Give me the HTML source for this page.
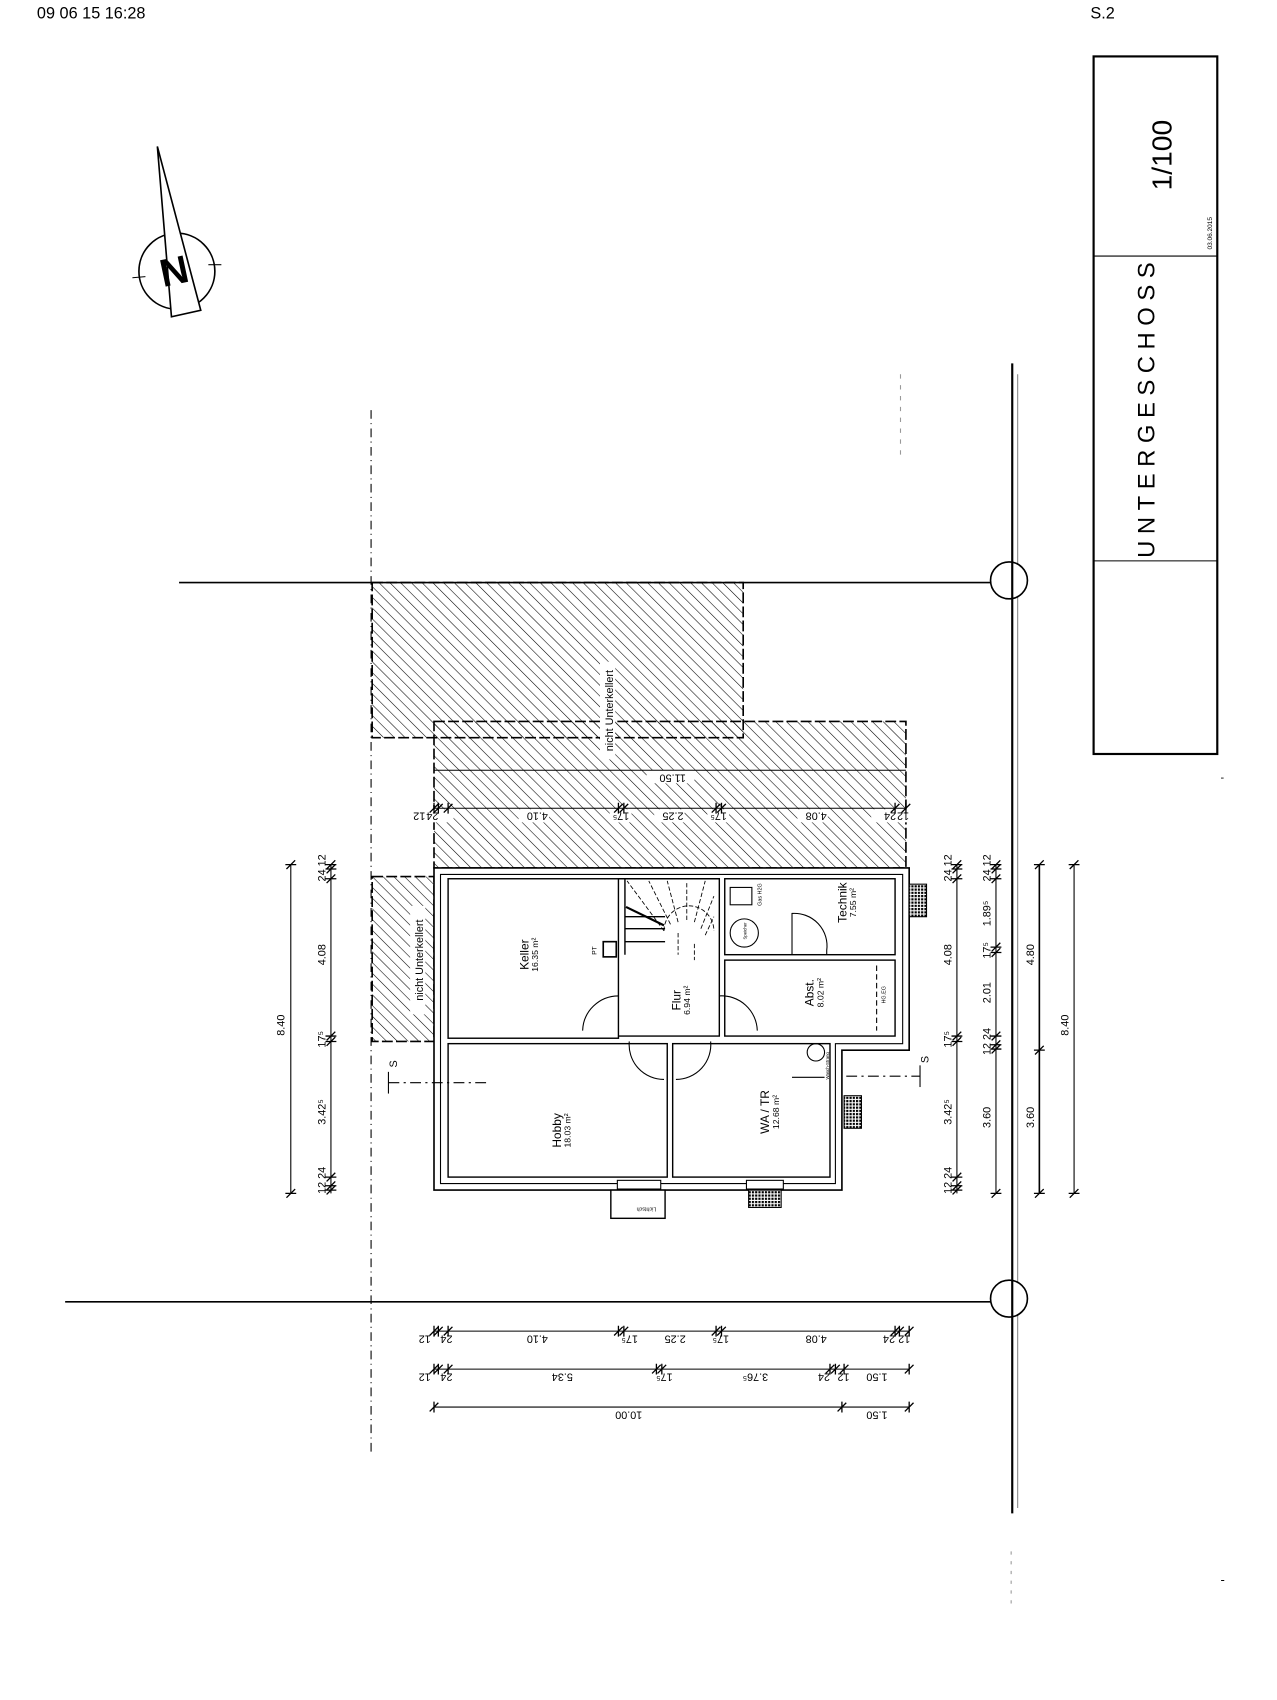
<!DOCTYPE html>
<html><head><meta charset="utf-8">
<style>
html,body{margin:0;padding:0;background:#fff;}
svg{display:block;}
text{font-family:"Liberation Sans",sans-serif;fill:#000;}
.n{font-family:"Liberation Sans",sans-serif;font-size:10px;}
</style></head>
<body>
<svg width="1277" height="1700" viewBox="0 0 1177 1567" xmlns="http://www.w3.org/2000/svg">
<defs>
<pattern id="h" width="7" height="7" patternUnits="userSpaceOnUse" patternTransform="rotate(-45)">
<line x1="0" y1="0" x2="0" y2="7" stroke="#000" stroke-width="1"/>
</pattern>
<pattern id="dot" width="3" height="3" patternUnits="userSpaceOnUse">
<rect width="3" height="3" fill="#fff"/><rect width="2" height="2" fill="#000"/>
</pattern>
<path id="tv" d="M-4 4L4 -4M-5 0H5" stroke="#000" stroke-width="1.2" fill="none"/>
<path id="th" d="M-4 4L4 -4M0 -5V5" stroke="#000" stroke-width="1.2" fill="none"/>
</defs>

<text x="34" y="17" font-size="15">09 06 15 16:28</text>
<text x="1005" y="17" font-size="15">S.2</text>

<!-- title block -->
<rect x="1008" y="52" width="114" height="643" fill="none" stroke="#000" stroke-width="2"/>
<line x1="1008" y1="236" x2="1122" y2="236" stroke="#000"/>
<line x1="1008" y1="517" x2="1122" y2="517" stroke="#000"/>
<text transform="translate(1080,143) rotate(-90)" font-size="26" text-anchor="middle">1/100</text>
<text transform="translate(1117,215) rotate(-90)" font-size="6" text-anchor="middle">03.06.2015</text>
<text transform="translate(1064,375) rotate(-90)" font-size="22" letter-spacing="6" text-anchor="middle">UNTERGESCHOSS</text>
<text x="1125" y="720" font-size="10">-</text>
<text x="1125" y="1460" font-size="12">-</text>

<!-- compass -->
<circle cx="163" cy="250" r="35" fill="none" stroke="#000" stroke-width="1.5"/>
<line x1="122" y1="256" x2="134" y2="255" stroke="#000"/>
<line x1="192" y1="244" x2="204" y2="244" stroke="#000"/>
<polygon points="145,135 185,286 158,292" fill="#fff" stroke="#000" stroke-width="1.5"/>
<text transform="translate(163,262) rotate(-12)" font-size="36" font-weight="bold" text-anchor="middle">N</text>

<!-- axis lines -->
<line x1="933" y1="335" x2="933" y2="1395" stroke="#000" stroke-width="2"/>
<line x1="938" y1="345" x2="938" y2="1390" stroke="#888" stroke-width="1"/>
<line x1="165" y1="537" x2="913" y2="537" stroke="#000" stroke-width="1.5"/>
<line x1="60" y1="1200" x2="913" y2="1200" stroke="#000" stroke-width="1.5"/>
<circle cx="930" cy="535" r="17" fill="#fff" stroke="#000" stroke-width="1.5"/>
<circle cx="930" cy="1197" r="17" fill="#fff" stroke="#000" stroke-width="1.5"/>
<line x1="933" y1="518" x2="933" y2="552" stroke="#000" stroke-width="2"/>
<line x1="933" y1="1180" x2="933" y2="1214" stroke="#000" stroke-width="2"/>
<line x1="342" y1="378" x2="342" y2="1340" stroke="#000" stroke-width="1" stroke-dasharray="8 4 1 4"/>
<line x1="830" y1="345" x2="830" y2="420" stroke="#999" stroke-width="1" stroke-dasharray="4 6"/>
<line x1="932" y1="1430" x2="932" y2="1480" stroke="#999" stroke-width="1" stroke-dasharray="3 6"/>

<!-- hatched areas -->
<rect x="343" y="537" width="342" height="143" fill="url(#h)" stroke="#000" stroke-width="1.5" stroke-dasharray="10 3"/>
<rect x="400" y="665" width="435" height="135" fill="url(#h)" stroke="#000" stroke-width="1.5" stroke-dasharray="10 3"/>
<rect x="343" y="808" width="57" height="152" fill="url(#h)" stroke="#000" stroke-width="1.5" stroke-dasharray="10 3"/>
<rect x="553" y="610" width="14" height="90" fill="#fff"/>
<text transform="translate(565,655) rotate(-90)" font-size="10" text-anchor="middle">nicht Unterkellert</text>
<rect x="378" y="835" width="14" height="100" fill="#fff"/>
<text transform="translate(390,885) rotate(-90)" font-size="10" text-anchor="middle">nicht Unterkellert</text>

<!-- top dims in hatch -->
<rect x="596" y="710" width="44" height="12" fill="#fff"/>
<line x1="400" y1="710" x2="835" y2="710" stroke="#000"/>
<text transform="translate(620,714) rotate(180)" class="n" text-anchor="middle">11.50</text>
<line x1="400" y1="745" x2="835" y2="745" stroke="#000"/>
<g fill="#fff"><rect x="378" y="746" width="40" height="12"/><rect x="478" y="746" width="28" height="12"/><rect x="562" y="746" width="20" height="12"/><rect x="603" y="746" width="28" height="12"/><rect x="652" y="746" width="20" height="12"/><rect x="735" y="746" width="28" height="12"/><rect x="803" y="746" width="40" height="12"/></g>
<g class="n"><text transform="translate(392,749) rotate(180)">12</text><text transform="translate(404,749) rotate(180)">24</text><text transform="translate(505,749) rotate(180)">4.10</text><text transform="translate(580,749) rotate(180)">17⁵</text><text transform="translate(630,749) rotate(180)">2.25</text><text transform="translate(670,749) rotate(180)">17⁵</text><text transform="translate(762,749) rotate(180)">4.08</text><text transform="translate(826,749) rotate(180)">24</text><text transform="translate(838,749) rotate(180)">12</text></g>
<g><use href="#th" x="400" y="745"/><use href="#th" x="404" y="745"/><use href="#th" x="413" y="745"/><use href="#th" x="570" y="745"/><use href="#th" x="575" y="745"/><use href="#th" x="660" y="745"/><use href="#th" x="665" y="745"/><use href="#th" x="825" y="745"/><use href="#th" x="835" y="745"/></g>

<!-- house walls -->
<path d="M400 800 H838 V968 H776 V1097 H400 Z" fill="#fff" stroke="#000" stroke-width="1.5"/>
<path d="M406 806 H832 V962 H770 V1091 H406 Z" fill="none" stroke="#000" stroke-width="1"/>
<!-- rooms -->
<g fill="none" stroke="#000" stroke-width="1.3">
<rect x="413" y="810" width="157" height="147"/>
<rect x="413" y="962" width="202" height="123"/>
<rect x="620" y="962" width="145" height="123"/>
<rect x="668" y="810" width="157" height="70"/>
<rect x="668" y="885" width="157" height="70"/>
<path d="M570 810 H663 V955 H570"/>
<path d="M576 810 V880 M576 868 H613 M576 856 H613 M576 845 H613"/>
</g>
<!-- stair detail -->
<g stroke="#000" stroke-width="0.8" fill="none" stroke-dasharray="4 2">
<path d="M612 858 A22 22 0 0 1 658 858"/>
<path d="M612 858 L578 812 M618 852 L598 812 M625 850 L615 812 M633 848 L633 812 M640 850 L650 812 M646 856 L658 826 M650 862 L658 845"/>
<path d="M625 860 V880 M640 870 V885"/>
</g>
<line x1="577" y1="836" x2="612" y2="853" stroke="#000" stroke-width="2"/>
<rect x="556" y="868" width="12" height="14" fill="none" stroke="#000" stroke-width="1.5"/>
<text transform="translate(550,880) rotate(-90)" font-size="6">PT</text>
<!-- technik items -->
<rect x="673" y="818" width="20" height="16" fill="none" stroke="#000"/>
<text transform="translate(702,835) rotate(-90)" font-size="5">Gas H2G</text>
<circle cx="686" cy="860" r="13" fill="none" stroke="#000"/>
<text transform="translate(688,866) rotate(-90)" font-size="4">Speicher</text>
<path d="M730 880 V842 A30 30 0 0 1 762 876 V880" fill="none" stroke="#000"/>
<circle cx="752" cy="970" r="8" fill="none" stroke="#000"/>
<text transform="translate(764,995) rotate(-90)" font-size="4">Wasch-Strang</text>
<line x1="730" y1="993" x2="760" y2="993" stroke="#000"/>
<path d="M808 890 V950" stroke="#000" stroke-dasharray="5 3"/>
<text transform="translate(816,925) rotate(-90)" font-size="5">HG.EG</text>
<!-- doors -->
<g fill="none" stroke="#000" stroke-width="1">
<path d="M570 918 A33 33 0 0 0 537 950"/>
<path d="M663 918 A33 33 0 0 1 698 950"/>
<path d="M580 960 A32 32 0 0 0 612 995"/>
<path d="M655 960 A32 32 0 0 1 623 995"/>
</g>
<!-- windows/lichtschacht -->
<rect x="569" y="1088" width="40" height="8" fill="#fff" stroke="#000"/>
<rect x="563" y="1097" width="50" height="26" fill="#fff" stroke="#000" stroke-width="1.3"/>
<text transform="translate(605,1113) rotate(180)" font-size="5">Lichtsch</text>
<rect x="690" y="1097" width="30" height="16" fill="url(#dot)" stroke="#000"/>
<rect x="688" y="1088" width="34" height="8" fill="#fff" stroke="#000"/>
<rect x="838" y="815" width="16" height="30" fill="url(#dot)" stroke="#000"/>
<rect x="778" y="1010" width="16" height="30" fill="url(#dot)" stroke="#000"/>
<!-- room labels -->
<g font-size="11" text-anchor="middle">
<text transform="translate(487,880) rotate(-90)">Keller</text>
<text transform="translate(496,880) rotate(-90)" font-size="8">16.35 m²</text>
<text transform="translate(627,922) rotate(-90)">Flur</text>
<text transform="translate(636,922) rotate(-90)" font-size="8">6.94 m²</text>
<text transform="translate(780,832) rotate(-90)">Technik</text>
<text transform="translate(789,832) rotate(-90)" font-size="8">7.55 m²</text>
<text transform="translate(750,915) rotate(-90)">Abst.</text>
<text transform="translate(759,915) rotate(-90)" font-size="8">8.02 m²</text>
<text transform="translate(517,1042) rotate(-90)">Hobby</text>
<text transform="translate(526,1042) rotate(-90)" font-size="8">18.03 m²</text>
<text transform="translate(709,1025) rotate(-90)">WA / TR</text>
<text transform="translate(718,1025) rotate(-90)" font-size="8">12.68 m²</text>
</g>
<!-- section marks -->
<g stroke="#000" fill="none">
<path d="M358 998 H450" stroke-dasharray="10 4 2 4"/><path d="M358 988 V1008"/>
<path d="M780 992 H848" stroke-dasharray="10 4 2 4"/><path d="M848 982 V1002"/>
</g>
<text transform="translate(366,984) rotate(-90)" font-size="10">S</text>
<text transform="translate(856,980) rotate(-90)" font-size="10">S</text>

<!-- left dims -->
<line x1="268" y1="797" x2="268" y2="1100" stroke="#000"/>
<use href="#tv" x="268" y="797"/><use href="#tv" x="268" y="1100"/>
<text transform="translate(262,945) rotate(-90)" class="n" text-anchor="middle">8.40</text>
<line x1="305" y1="797" x2="305" y2="1100" stroke="#000"/>
<g><use href="#tv" x="305" y="797"/><use href="#tv" x="305" y="801"/><use href="#tv" x="305" y="810"/><use href="#tv" x="305" y="955"/><use href="#tv" x="305" y="960"/><use href="#tv" x="305" y="1085"/><use href="#tv" x="305" y="1093"/><use href="#tv" x="305" y="1097"/></g>
<g class="n" text-anchor="middle">
<text transform="translate(300,800) rotate(-90)">24 12</text>
<text transform="translate(300,880) rotate(-90)">4.08</text>
<text transform="translate(300,958) rotate(-90)">17⁵</text>
<text transform="translate(300,1025) rotate(-90)">3.42⁵</text>
<text transform="translate(300,1088) rotate(-90)">12 24</text>
</g>

<!-- right dims -->
<line x1="882" y1="797" x2="882" y2="1100" stroke="#000"/>
<g><use href="#tv" x="882" y="797"/><use href="#tv" x="882" y="801"/><use href="#tv" x="882" y="810"/><use href="#tv" x="882" y="955"/><use href="#tv" x="882" y="960"/><use href="#tv" x="882" y="1085"/><use href="#tv" x="882" y="1093"/><use href="#tv" x="882" y="1097"/></g>
<g class="n" text-anchor="middle">
<text transform="translate(877,800) rotate(-90)">24 12</text>
<text transform="translate(877,880) rotate(-90)">4.08</text>
<text transform="translate(877,958) rotate(-90)">17⁵</text>
<text transform="translate(877,1025) rotate(-90)">3.42⁵</text>
<text transform="translate(877,1088) rotate(-90)">12 24</text>
</g>
<line x1="918" y1="797" x2="918" y2="1100" stroke="#000"/>
<g><use href="#tv" x="918" y="797"/><use href="#tv" x="918" y="801"/><use href="#tv" x="918" y="810"/><use href="#tv" x="918" y="873"/><use href="#tv" x="918" y="878"/><use href="#tv" x="918" y="955"/><use href="#tv" x="918" y="963"/><use href="#tv" x="918" y="967"/><use href="#tv" x="918" y="1100"/></g>
<g class="n" text-anchor="middle">
<text transform="translate(913,800) rotate(-90)">24 12</text>
<text transform="translate(913,842) rotate(-90)">1.89⁵</text>
<text transform="translate(913,876) rotate(-90)">17⁵</text>
<text transform="translate(913,915) rotate(-90)">2.01</text>
<text transform="translate(913,960) rotate(-90)">12 24</text>
<text transform="translate(913,1030) rotate(-90)">3.60</text>
</g>
<line x1="958" y1="797" x2="958" y2="1100" stroke="#000" stroke-width="1.5"/>
<use href="#tv" x="958" y="797"/><use href="#tv" x="958" y="968"/><use href="#tv" x="958" y="1100"/>
<text transform="translate(953,880) rotate(-90)" class="n" text-anchor="middle">4.80</text>
<text transform="translate(953,1030) rotate(-90)" class="n" text-anchor="middle">3.60</text>
<line x1="990" y1="797" x2="990" y2="1100" stroke="#000"/>
<use href="#tv" x="990" y="797"/><use href="#tv" x="990" y="1100"/>
<text transform="translate(985,945) rotate(-90)" class="n" text-anchor="middle">8.40</text>

<!-- bottom dims -->
<line x1="400" y1="1227" x2="838" y2="1227" stroke="#000"/>
<g><use href="#th" x="400" y="1227"/><use href="#th" x="404" y="1227"/><use href="#th" x="413" y="1227"/><use href="#th" x="570" y="1227"/><use href="#th" x="575" y="1227"/><use href="#th" x="660" y="1227"/><use href="#th" x="665" y="1227"/><use href="#th" x="825" y="1227"/><use href="#th" x="829" y="1227"/><use href="#th" x="838" y="1227"/></g>
<g class="n"><text transform="translate(397,1231) rotate(180)">12</text><text transform="translate(417,1231) rotate(180)">24</text><text transform="translate(505,1231) rotate(180)">4.10</text><text transform="translate(588,1231) rotate(180)">17⁵</text><text transform="translate(632,1231) rotate(180)">2.25</text><text transform="translate(672,1231) rotate(180)">17⁵</text><text transform="translate(762,1231) rotate(180)">4.08</text><text transform="translate(825,1231) rotate(180)">24</text><text transform="translate(839,1231) rotate(180)">12</text></g>
<line x1="400" y1="1262" x2="838" y2="1262" stroke="#000"/>
<g><use href="#th" x="400" y="1262"/><use href="#th" x="404" y="1262"/><use href="#th" x="413" y="1262"/><use href="#th" x="605" y="1262"/><use href="#th" x="610" y="1262"/><use href="#th" x="765" y="1262"/><use href="#th" x="770" y="1262"/><use href="#th" x="778" y="1262"/><use href="#th" x="838" y="1262"/></g>
<g class="n"><text transform="translate(397,1266) rotate(180)">12</text><text transform="translate(417,1266) rotate(180)">24</text><text transform="translate(528,1266) rotate(180)">5.34</text><text transform="translate(620,1266) rotate(180)">17⁵</text><text transform="translate(708,1266) rotate(180)">3.76⁵</text><text transform="translate(765,1266) rotate(180)">24</text><text transform="translate(783,1266) rotate(180)">12</text><text transform="translate(818,1266) rotate(180)">1.50</text></g>
<line x1="400" y1="1297" x2="838" y2="1297" stroke="#000"/>
<use href="#th" x="400" y="1297"/><use href="#th" x="776" y="1297"/><use href="#th" x="838" y="1297"/>
<g class="n"><text transform="translate(592,1301) rotate(180)">10.00</text><text transform="translate(818,1301) rotate(180)">1.50</text></g>
</svg>
</body></html>
